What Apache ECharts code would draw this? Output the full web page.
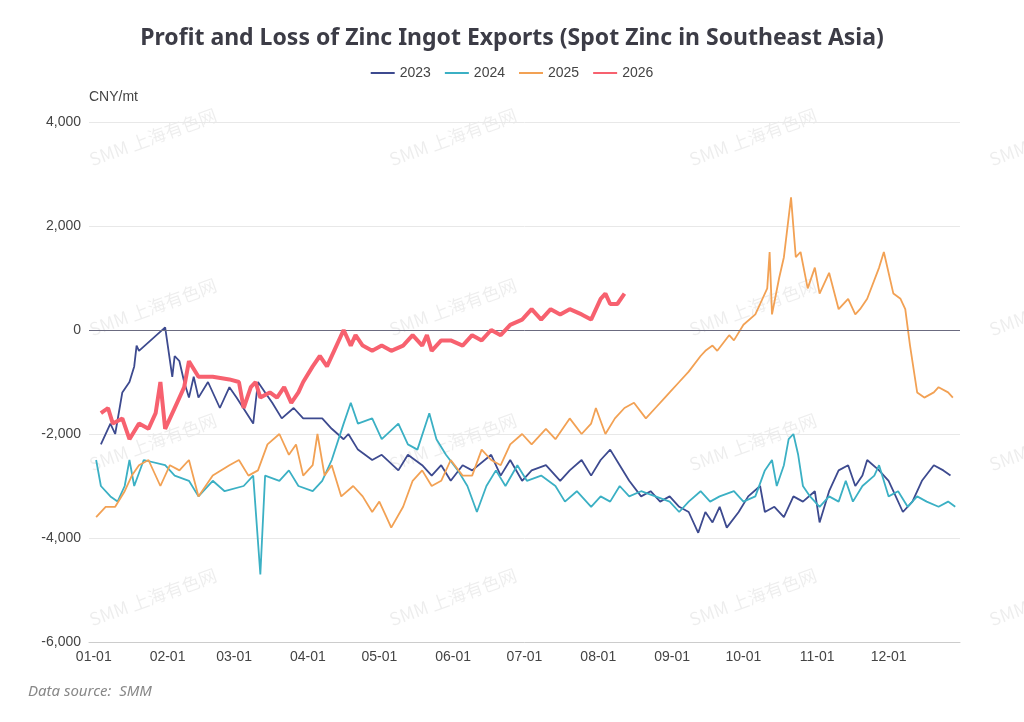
<!DOCTYPE html>
<html><head><meta charset="utf-8">
<script src="https://cdn.jsdelivr.net/npm/echarts@6/dist/echarts.min.js"></script>
<style>html,body{margin:0;padding:0;background:#fff}#c{width:1024px;height:722px}</style>
</head><body><div id="c"></div>
<script>
const days2023=[3,7,9,12,15,17,18,19,30,33,34,36,38,40,42,44,48,53,57,60,67,69,72,75,79,84,88,96,100,105,107,111,117,121,128,132,138,142,146,150,155,159,167,171,175,180,184,190,196,200,205,209,213,217,221,225,230,234,238,242,246,250,254,257,260,263,266,271,275,280,282,286,290,294,298,303,305,309,313,317,320,323,325,330,334,336,340,344,348,353,357,360];
const vals2023=[-2200,-1800,-2000,-1200,-1000,-700,-300,-400,50,-900,-500,-600,-1000,-1300,-900,-1300,-1000,-1500,-1100,-1300,-1800,-1000,-1200,-1400,-1700,-1500,-1700,-1700,-1900,-2100,-2000,-2300,-2500,-2400,-2700,-2400,-2600,-2800,-2600,-2900,-2600,-2700,-2400,-2800,-2500,-2900,-2700,-2600,-2900,-2700,-2500,-2800,-2500,-2300,-2600,-2900,-3200,-3100,-3300,-3200,-3400,-3500,-3900,-3500,-3700,-3400,-3800,-3500,-3200,-3000,-3500,-3400,-3600,-3200,-3300,-3100,-3700,-3100,-2700,-2600,-3000,-2800,-2500,-2700,-2900,-3100,-3500,-3300,-2900,-2600,-2700,-2800];
const days2024=[1,3,7,10,13,15,17,21,30,34,40,44,50,55,63,67,70,72,78,82,86,92,96,100,105,108,111,117,121,128,132,136,141,144,148,153,157,161,165,169,173,178,182,188,194,198,203,209,213,217,221,225,230,236,242,246,250,255,259,263,269,273,278,282,285,287,290,292,294,296,298,301,305,309,313,316,319,323,328,330,334,338,342,346,350,355,359,362];
const vals2024=[-2500,-3000,-3200,-3300,-3000,-2500,-3000,-2500,-2600,-2800,-2900,-3200,-2900,-3100,-3000,-2800,-4700,-2800,-2900,-2700,-3000,-3100,-2900,-2500,-1800,-1400,-1800,-1700,-2100,-1800,-2200,-2300,-1600,-2100,-2400,-2700,-3000,-3500,-3000,-2700,-3000,-2600,-2900,-2800,-3000,-3300,-3100,-3400,-3200,-3300,-3000,-3200,-3100,-3200,-3300,-3500,-3300,-3100,-3300,-3200,-3100,-3300,-3200,-2700,-2500,-3000,-2600,-2100,-2000,-2400,-3000,-3200,-3400,-3200,-3300,-2900,-3300,-3000,-2800,-2600,-3200,-3100,-3400,-3200,-3300,-3400,-3300,-3400];
const days2025=[1,5,9,13,16,19,23,28,32,36,40,44,50,57,61,65,69,73,78,82,85,88,92,94,97,100,104,109,113,117,120,123,125,130,134,138,142,146,150,155,159,163,167,171,175,180,184,190,194,200,205,209,211,215,219,223,227,232,236,240,242,246,250,255,257,260,262,267,269,273,278,280,283,284,285,288,290,293,295,297,300,303,305,309,313,317,320,322,325,330,332,336,339,341,343,346,349,353,355,359,361];
const vals2025=[-3600,-3400,-3400,-3100,-2800,-2600,-2500,-3000,-2600,-2700,-2500,-3200,-2800,-2600,-2500,-2800,-2700,-2200,-2000,-2400,-2200,-2800,-2600,-2000,-2800,-2600,-3200,-3000,-3200,-3500,-3300,-3600,-3800,-3400,-2900,-2700,-3000,-2900,-2500,-2800,-2800,-2300,-2500,-2600,-2200,-2000,-2200,-1900,-2100,-1700,-2000,-1800,-1500,-2000,-1700,-1500,-1400,-1700,-1500,-1300,-1200,-1000,-800,-500,-400,-300,-400,-100,-200,100,300,500,800,1500,300,1000,1400,2550,1400,1500,800,1200,700,1100,400,600,300,400,600,1200,1500,700,600,400,-300,-1200,-1300,-1200,-1100,-1200,-1300];
const days2026=[3,6,8,12,15,19,23,26,28,30,35,38,40,44,50,57,61,63,66,68,70,74,77,80,83,86,88,92,95,98,101,105,108,110,113,117,121,125,130,134,138,140,142,146,150,155,159,163,167,171,175,180,184,188,192,196,200,205,209,213,215,217,220,223];
const vals2026=[-1600,-1500,-1800,-1700,-2100,-1800,-1900,-1600,-1000,-1900,-1400,-1100,-600,-900,-900,-950,-1000,-1500,-1100,-1000,-1300,-1200,-1300,-1100,-1400,-1200,-1000,-700,-500,-700,-400,0,-300,-100,-300,-400,-300,-400,-300,-100,-300,-100,-400,-200,-200,-300,-100,-200,0,-100,100,200,400,200,400,300,400,300,200,600,700,500,500,700];
const seriesNames=['2023','2024','2025','2026'];
const colors=['#3d4a8f','#3bb0c4','#f2a154','#f7616f'];
const base=Date.UTC(2001,0,1);
function pts(d,v){return d.map((x,i)=>[base+x*86400000,v[i]]);}
const allData=[pts(days2023,vals2023),pts(days2024,vals2024),pts(days2025,vals2025),pts(days2026,vals2026)];
const wm=[];
for(const [x,y] of [[90,160],[390,160],[690,160],[990,160],[90,330],[390,330],[690,330],[990,330],[90,465],[390,465],[690,465],[990,465],[90,620],[390,620],[690,620],[990,620]]){
 wm.push({type:'text',x:x,y:y,rotation:Math.PI/9,silent:true,z:-1,style:{text:'SMM 上海有色网',fill:'rgba(0,0,0,0.07)',font:'18px "Noto Sans CJK SC"',textAlign:'left',textVerticalAlign:'middle'}});
}
wm.push({type:'text',left:28,top:684,style:{text:'Data source:  SMM',fill:'#888',font:'italic 15px "Noto Sans"'}});
const chart=echarts.init(document.getElementById('c'));
chart.setOption({
 animation:false,
 title:{text:'Profit and Loss of Zinc Ingot Exports (Spot Zinc in Southeast Asia)',left:'center',top:22,textStyle:{fontSize:23,fontWeight:'bold',color:'#3c3c46',fontFamily:'Noto Sans'}},
 legend:{top:61,itemWidth:24,itemHeight:12,itemGap:14,textStyle:{fontSize:14,color:'#444'},data:seriesNames.map(n=>({name:n,icon:'path://M0,5L24,5L24,7L0,7Z'}))},
 graphic:wm,
 grid:{left:89,right:64,top:122,bottom:80},
 xAxis:{type:'time',min:base-2*86400000,max:base+364*86400000,splitLine:{show:false},
   axisLine:{onZero:false,lineStyle:{color:'#ccc'}},axisTick:{show:false},
   axisLabel:{formatter:'{MM}-{dd}',color:'#444',fontSize:14,hideOverlap:false},minInterval:28*86400000,maxInterval:31*86400000},
 yAxis:{type:'value',min:-6000,max:4000,interval:2000,name:'CNY/mt',nameGap:18,nameTextStyle:{color:'#444',fontSize:14,align:'left',padding:[0,0,0,0]},
   axisLabel:{color:'#444',fontSize:14},splitLine:{lineStyle:{color:'#e8e8e8'}}},
 series:seriesNames.map((n,i)=>({name:n,type:'line',data:allData[i],showSymbol:false,color:colors[i],
   lineStyle:{width:i===3?4:1.8},z:i===3?5:2,
   markLine:i===0?{silent:true,symbol:'none',label:{show:false},lineStyle:{color:'#6b6b80',type:'solid',width:1},data:[{yAxis:0}]}:undefined}))
});
</script></body></html>
